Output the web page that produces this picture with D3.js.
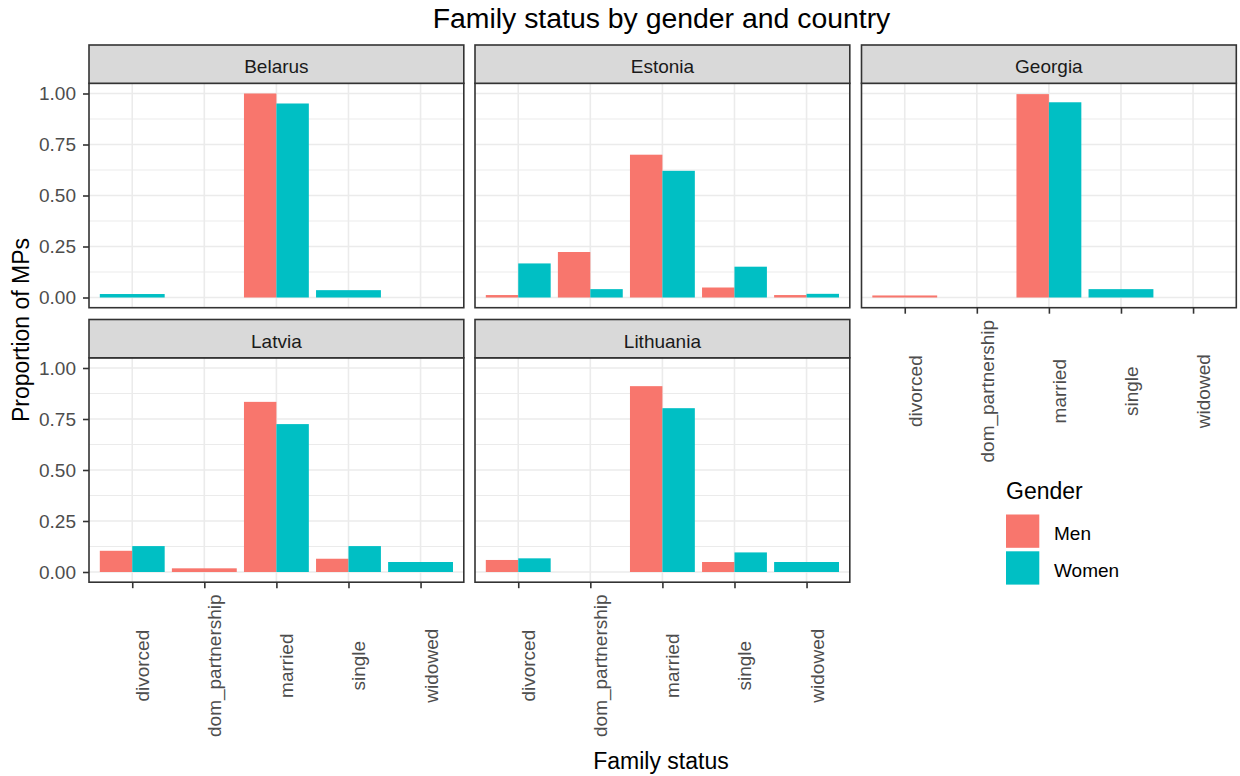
<!DOCTYPE html>
<html>
<head>
<meta charset="utf-8">
<script src="https://cdn.jsdelivr.net/npm/d3@7"></script>
<style>
  html, body { margin: 0; padding: 0; background: #ffffff; }
  svg { display: block; font-family: "Liberation Sans", Arial, sans-serif; }
</style>
</head>
<body>
<svg id="chart" width="1240" height="776"></svg>
<script>
// ---- Data ----
const countries = ["Belarus", "Estonia", "Georgia", "Latvia", "Lithuania"];
const statuses = ["divorced", "dom_partnership", "married", "single", "widowed"];
const genders = ["Men", "Women"];
const yTicks = [0, 0.25, 0.5, 0.75, 1.0];
const yMinorTicks = [0.125, 0.375, 0.625, 0.875];

// null = no bar for that gender in that status
const belarusMen     = [null, null, 1.000, null, null];
const belarusWomen   = [0.017, null, 0.951, 0.036, null];
const estoniaMen     = [0.012, 0.223, 0.700, 0.049, 0.012];
const estoniaWomen   = [0.167, 0.041, 0.621, 0.151, 0.018];
const georgiaMen     = [0.010, null, 0.997, null, null];
const georgiaWomen   = [null, null, 0.957, 0.041, null];
const latviaMen      = [0.104, 0.018, 0.834, 0.065, null];
const latviaWomen    = [0.127, null, 0.725, 0.127, 0.049];
const lithuaniaMen   = [0.059, null, 0.911, 0.049, null];
const lithuaniaWomen = [0.067, null, 0.803, 0.096, 0.049];

const menByCountry = [belarusMen, estoniaMen, georgiaMen, latviaMen, lithuaniaMen];
const womenByCountry = [belarusWomen, estoniaWomen, georgiaWomen, latviaWomen, lithuaniaWomen];

const colors = d3.scaleOrdinal().domain(genders).range(["#F8766D", "#00BFC4"]);

// ---- Layout ----
const svg = d3.select("#chart");
const colX = [89, 475, 861.5];
const panelW = 374.8;
const stripTop = [45, 319.5];
const stripH = 38.3;
const panelH = 224.4;
const fsTick = 19, fsTitle = 28.4, fsAxisTitle = 23;

const y = d3.scaleLinear().domain([-0.05, 1.05]).range([panelH, 0]);
const x = d3.scalePoint().domain(statuses).range([0, panelW]).padding(0.6);
const step = x.step();

countries.forEach((country, ci) => {
  const col = ci % 3, row = Math.floor(ci / 3);
  const px = colX[col];
  const sTop = stripTop[row];
  const pTop = sTop + stripH;
  const g = svg.append("g").attr("transform", `translate(${px},${pTop})`);

  // strip
  svg.append("rect")
    .attr("x", px).attr("y", sTop).attr("width", panelW).attr("height", stripH)
    .attr("fill", "#d9d9d9").attr("stroke", "#333333").attr("stroke-width", 1.6);
  svg.append("text")
    .attr("x", px + panelW / 2).attr("y", sTop + 28.3)
    .attr("text-anchor", "middle").attr("font-size", fsTick).attr("fill", "#1a1a1a")
    .text(country);

  // grid
  g.selectAll(".minor").data(yMinorTicks).enter().append("line")
    .attr("x1", 0).attr("x2", panelW)
    .attr("y1", d => y(d)).attr("y2", d => y(d))
    .attr("stroke", "#ebebeb").attr("stroke-width", 1.1);
  g.selectAll(".major").data(yTicks).enter().append("line")
    .attr("x1", 0).attr("x2", panelW)
    .attr("y1", d => y(d)).attr("y2", d => y(d))
    .attr("stroke", "#ebebeb").attr("stroke-width", 1.6);
  g.selectAll(".vmajor").data(statuses).enter().append("line")
    .attr("x1", d => x(d)).attr("x2", d => x(d))
    .attr("y1", 0).attr("y2", panelH)
    .attr("stroke", "#ebebeb").attr("stroke-width", 1.6);

  // bars (dodged; only present groups share the 0.9 width)
  const men = menByCountry[ci], women = womenByCountry[ci];
  statuses.forEach((s, si) => {
    const vals = [];
    if (men[si] !== null) vals.push({ g: "Men", v: men[si] });
    if (women[si] !== null) vals.push({ g: "Women", v: women[si] });
    const n = vals.length;
    if (!n) return;
    const totalW = 0.9 * step;
    const bw = totalW / n;
    vals.forEach((d, k) => {
      g.append("rect")
        .attr("x", x(s) - totalW / 2 + k * bw)
        .attr("width", bw)
        .attr("y", y(d.v))
        .attr("height", y(0) - y(d.v))
        .attr("fill", colors(d.g));
    });
  });

  // panel border
  g.append("rect").attr("x", 0).attr("y", 0).attr("width", panelW).attr("height", panelH)
    .attr("fill", "none").attr("stroke", "#333333").attr("stroke-width", 1.6);

  // y axis on first column
  if (col === 0) {
    const ya = d3.axisLeft(y).tickValues(yTicks).tickFormat(d3.format(".2f")).tickSize(6).tickPadding(7);
    const ag = g.append("g").call(ya);
    ag.select(".domain").remove();
    ag.selectAll(".tick line").attr("stroke", "#333333").attr("stroke-width", 1.6);
    ag.selectAll(".tick text").attr("fill", "#4d4d4d").attr("font-size", fsTick)
      .attr("font-family", "Liberation Sans, Arial, sans-serif");
  }

  // x axis where no panel below
  const hasBelow = ci + 3 < countries.length;
  if (!hasBelow) {
    const xa = d3.axisBottom(x).tickSize(6).tickFormat("");
    const ag = g.append("g").attr("transform", `translate(0,${panelH})`).call(xa);
    ag.select(".domain").remove();
    ag.selectAll(".tick line").attr("stroke", "#333333").attr("stroke-width", 1.6);
    ag.selectAll(".tick").append("text")
      .attr("transform", `translate(16.5,${83.5}) rotate(-90)`)
      .attr("text-anchor", "middle")
      .attr("fill", "#4d4d4d").attr("font-size", fsTick)
      .attr("font-family", "Liberation Sans, Arial, sans-serif")
      .text(d => d);
  }
});

// titles
svg.append("text").attr("x", 661.5).attr("y", 28.3).attr("text-anchor", "middle")
  .attr("font-size", fsTitle).attr("fill", "#000").text("Family status by gender and country");
svg.append("text").attr("x", 661).attr("y", 769).attr("text-anchor", "middle")
  .attr("font-size", fsAxisTitle).attr("fill", "#000").text("Family status");
svg.append("text").attr("transform", "translate(29,330) rotate(-90)").attr("text-anchor", "middle")
  .attr("font-size", fsAxisTitle).attr("fill", "#000").text("Proportion of MPs");

// legend
const lg = svg.append("g").attr("transform", "translate(1006,0)");
lg.append("text").attr("x", 0).attr("y", 499).attr("font-size", fsAxisTitle).attr("fill", "#000").text("Gender");
genders.forEach((gname, i) => {
  const top = 514.5 + i * 36.8;
  lg.append("rect").attr("x", 0).attr("y", top).attr("width", 33.3).attr("height", 33.3)
    .attr("fill", colors(gname));
  lg.append("text").attr("x", 48).attr("y", top + 25.5).attr("font-size", fsTick).attr("fill", "#000")
    .text(gname);
});
</script>
</body>
</html>
